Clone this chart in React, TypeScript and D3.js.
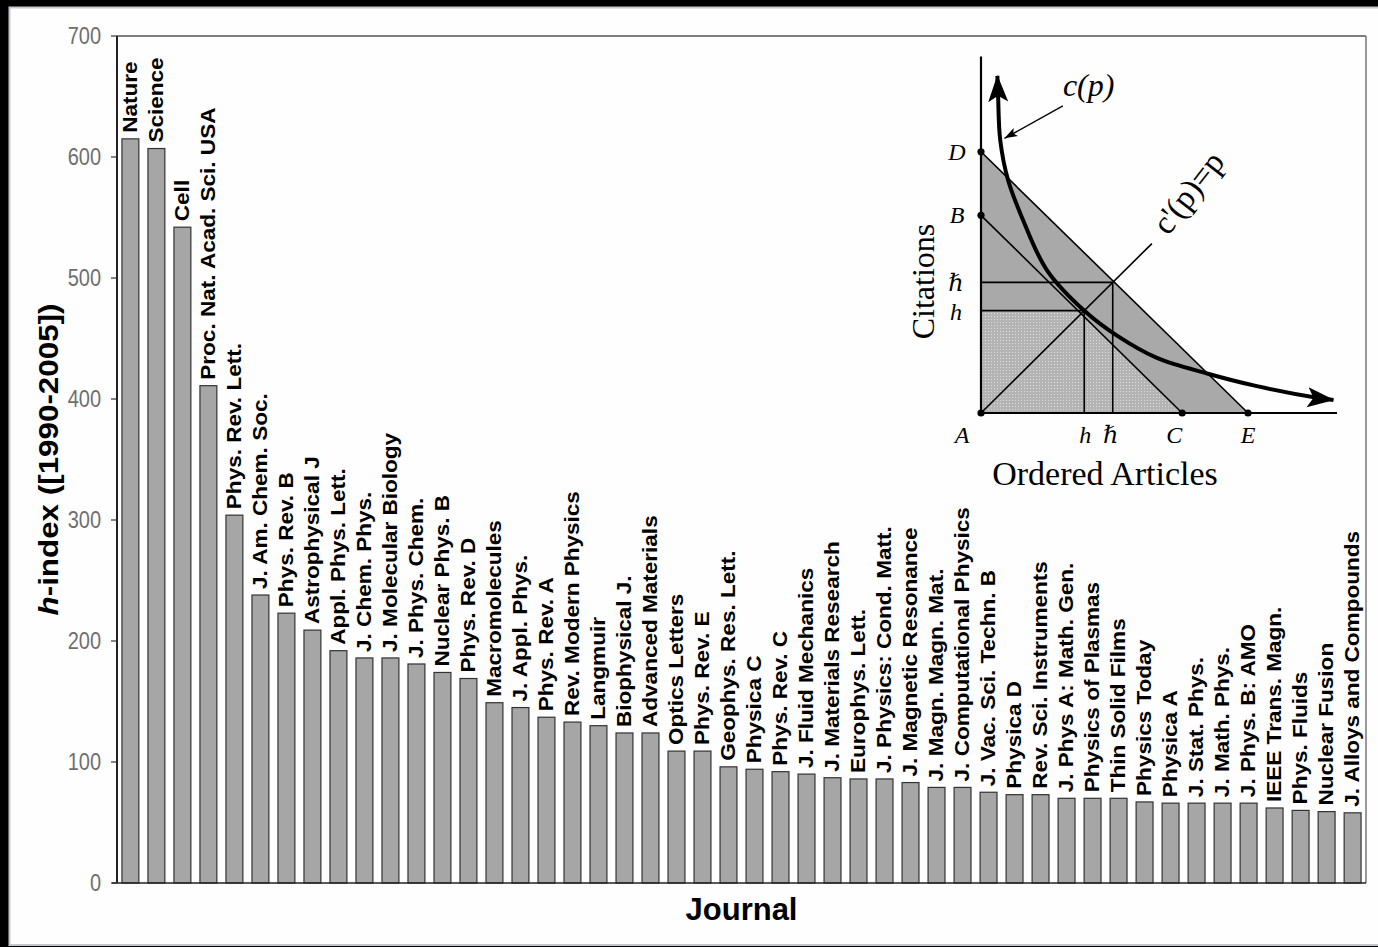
import React from "react";
import * as d3 from "d3";

// journals, ordered by h-index (1990-2005)
const journals = [
  "Nature", "Science", "Cell", "Proc. Nat. Acad. Sci. USA", "Phys. Rev. Lett.",
  "J. Am. Chem. Soc.", "Phys. Rev. B", "Astrophysical J", "Appl. Phys. Lett.",
  "J. Chem. Phys.", "J. Molecular Biology", "J. Phys. Chem.", "Nuclear Phys. B",
  "Phys. Rev. D", "Macromolecules", "J. Appl. Phys.", "Phys. Rev. A",
  "Rev. Modern Physics", "Langmuir", "Biophysical J.", "Advanced Materials",
  "Optics Letters", "Phys. Rev. E", "Geophys. Res. Lett.", "Physica C",
  "Phys. Rev. C", "J. Fluid Mechanics", "J. Materials Research", "Europhys. Lett.",
  "J. Physics: Cond. Matt.", "J. Magnetic Resonance", "J. Magn. Magn. Mat.",
  "J. Computational Physics", "J. Vac. Sci. Techn. B", "Physica D",
  "Rev. Sci. Instruments", "J. Phys A: Math. Gen.", "Physics of Plasmas",
  "Thin Solid Films", "Physics Today", "Physica A", "J. Stat. Phys.",
  "J. Math. Phys.", "J. Phys. B: AMO", "IEEE Trans. Magn.", "Phys. Fluids",
  "Nuclear Fusion", "J. Alloys and Compounds",
];

const hIndex = [
  615, 607, 542, 411, 304, 238, 223, 209, 192, 186, 186, 181, 174, 169, 149, 145,
  137, 133, 130, 124, 124, 109, 109, 96, 94, 92, 90, 87, 86, 86, 83, 79, 79, 75,
  73, 73, 70, 70, 70, 67, 66, 66, 66, 66, 62, 60, 59, 58,
];

const yTicks = [0, 100, 200, 300, 400, 500, 600, 700];

// inset schematic, in its own 0..100 units
const vertexNames = ["A", "B", "C", "D", "E"];
const vertexX = [0, 0, 56.5, 0, 75];
const vertexY = [0, 56, 0, 74, 0];
const hValue = 29;
const hBarValue = 37;
const diagonalEnd = 48;
const curveX = [4.6, 4.8, 5.4, 7.6, 11.8, 18.5, 29.2, 38.2, 49.4, 63.5, 77.5, 94.4, 99];
const curveY = [95.5, 90, 77.3, 66, 54.7, 40.5, 28.8, 21.9, 15.6, 11.2, 7.6, 4.3, 3.7];

const W = 1378;
const H = 947;
const PLOT = { left: 117, right: 1366, top: 36, bottom: 883 };
const INSET = { left: 981, right: 1337, top: 60, bottom: 413 };

const SANS = "'Liberation Sans', Arial, Helvetica, sans-serif";
const SERIF = "'Liberation Serif', 'Times New Roman', 'DejaVu Serif', serif";

export default function App() {
  const x = d3
    .scaleBand<string>()
    .domain(journals)
    .range([PLOT.left, PLOT.right])
    .paddingInner(0.35)
    .paddingOuter(0.19);
  const y = d3.scaleLinear().domain([0, 700]).range([PLOT.bottom, PLOT.top]);
  const bw = x.bandwidth();

  // inset scales
  const ix = d3.scaleLinear().domain([0, 100]).range([INSET.left, INSET.right]);
  const iy = d3.scaleLinear().domain([0, 100]).range([INSET.bottom, INSET.top]);
  const pt = (name: string) => {
    const i = vertexNames.indexOf(name);
    return [ix(vertexX[i]), iy(vertexY[i])];
  };
  const [Ax, Ay] = pt("A");
  const [Bx, By] = pt("B");
  const [Cx, Cy] = pt("C");
  const [Dx, Dy] = pt("D");
  const [Ex, Ey] = pt("E");
  // where BC crosses the h line
  const bcAtH = vertexX[2] * (1 - hValue / vertexY[1]);

  const curve = d3
    .line<[number, number]>()
    .x((d) => ix(d[0]))
    .y((d) => iy(d[1]))
    .curve(d3.curveCatmullRom.alpha(0.5));
  const curvePath = curve(curveX.map((v, i) => [v, curveY[i]] as [number, number]));

  const labelStyle = { fontFamily: SERIF, fontStyle: "italic", fontSize: 24 };

  return (
    <div style={{ position: "absolute", left: 0, top: 0 }}>
      <svg width={W} height={H} style={{ display: "block" }}>
        <defs>
          <marker
            id="bigArrow"
            markerUnits="userSpaceOnUse"
            viewBox="0 0 28 22"
            markerWidth={28}
            markerHeight={22}
            refX={26}
            refY={11}
            orient="auto-start-reverse"
          >
            <path d="M0,1 L27,11 L0,21 L6,11 Z" fill="#000" />
          </marker>
          <marker
            id="smallArrow"
            markerUnits="userSpaceOnUse"
            viewBox="0 0 14 10"
            markerWidth={14}
            markerHeight={10}
            refX={13}
            refY={5}
            orient="auto"
          >
            <path d="M0,0.5 L13,5 L0,9.5 L3,5 Z" fill="#000" />
          </marker>
          <pattern id="dots" width={3} height={3} patternUnits="userSpaceOnUse">
            <rect width={3} height={3} fill="#b4b4b4" />
            <rect x={1} y={1} width={1} height={1} fill="#dadada" />
          </pattern>
        </defs>

        {/* frame */}
        <rect x={0} y={0} width={W} height={H} fill="#000" />
        <rect x={9.5} y={7.5} width={W} height={937.5} fill="#fefefe" stroke="#c3c8d0" strokeWidth={2} />

        {/* plot box */}
        <line x1={PLOT.left} x2={PLOT.right} y1={PLOT.top} y2={PLOT.top} stroke="#555" strokeWidth={1.5} />
        <line x1={PLOT.right} x2={PLOT.right} y1={PLOT.top} y2={PLOT.bottom} stroke="#777" strokeWidth={1.5} />

        {/* bars */}
        {journals.map((j, i) => (
          <rect
            key={j}
            x={x(j)}
            y={y(hIndex[i])}
            width={bw}
            height={y(0) - y(hIndex[i])}
            fill="#a6a6a6"
            stroke="#333"
            strokeWidth={1.2}
          />
        ))}

        {/* bar labels */}
        {journals.map((j, i) => (
          <text
            key={"l" + j}
            transform={`translate(${(x(j) as number) + bw / 2 + 6.5},${y(hIndex[i]) - 6}) rotate(-90) scale(1.1,1)`}
            fontFamily={SANS}
            fontWeight="bold"
            fontSize={20.5}
            fill="#000"
          >
            {j}
          </text>
        ))}

        {/* y axis */}
        <line x1={PLOT.left} x2={PLOT.left} y1={PLOT.top} y2={PLOT.bottom} stroke="#222" strokeWidth={2} />
        <line x1={PLOT.left - 5} x2={PLOT.right} y1={PLOT.bottom} y2={PLOT.bottom} stroke="#222" strokeWidth={1.5} />
        {yTicks.map((t) => (
          <g key={t}>
            <line x1={PLOT.left - 6} x2={PLOT.left} y1={y(t)} y2={y(t)} stroke="#333" strokeWidth={1.2} />
            <text
              transform={`translate(${PLOT.left - 16},${y(t)}) scale(1,1.15)`}
              textAnchor="end"
              dominantBaseline="central"
              fontFamily={SANS}
              fontSize={20}
              fill="#6e6e6e"
            >
              {t}
            </text>
          </g>
        ))}
        <text
          transform={`translate(58,${(PLOT.top + PLOT.bottom) / 2}) rotate(-90) scale(1.12,1)`}
          textAnchor="middle"
          fontFamily={SANS}
          fontWeight="bold"
          fontSize={28}
          fill="#000"
        >
          <tspan fontStyle="italic">h</tspan>-index ([1990-2005])
        </text>
        <text
          x={(PLOT.left + PLOT.right) / 2}
          y={920}
          textAnchor="middle"
          fontFamily={SANS}
          fontWeight="bold"
          fontSize={31}
          fill="#000"
        >
          Journal
        </text>

        {/* inset schematic */}
        <g>
          <polygon points={`${Ax},${Ay} ${Dx},${Dy} ${Ex},${Ey}`} fill="#a9a9a9" />
          <polygon
            points={`${Ax},${Ay} ${Ax},${iy(hValue)} ${ix(bcAtH)},${iy(hValue)} ${Cx},${Cy}`}
            fill="url(#dots)"
          />
          <g stroke="#000" strokeWidth={1.6} fill="none">
            <line x1={Dx} y1={Dy} x2={Ex} y2={Ey} />
            <line x1={Bx} y1={By} x2={Cx} y2={Cy} />
            <line x1={Ax} y1={iy(hBarValue)} x2={ix(hBarValue)} y2={iy(hBarValue)} />
            <line x1={Ax} y1={iy(hValue)} x2={ix(hValue)} y2={iy(hValue)} />
            <line x1={ix(hValue)} y1={iy(hValue)} x2={ix(hValue)} y2={Ay} />
            <line x1={ix(hBarValue)} y1={iy(hBarValue)} x2={ix(hBarValue)} y2={Ay} />
            <line x1={Ax} y1={Ay} x2={ix(diagonalEnd)} y2={iy(diagonalEnd)} />
          </g>
          {/* axes */}
          <line x1={Ax} y1={Ay} x2={Ax} y2={iy(101)} stroke="#000" strokeWidth={2.2} />
          <line x1={Ax} y1={Ay} x2={ix(100)} y2={Ay} stroke="#000" strokeWidth={2.2} />
          {/* c(p) curve */}
          <path
            d={curvePath ?? ""}
            fill="none"
            stroke="#000"
            strokeWidth={4}
            markerStart="url(#bigArrow)"
            markerEnd="url(#bigArrow)"
          />
          {vertexNames.map((n) => {
            const [px, py] = pt(n);
            return <circle key={n} cx={px} cy={py} r={3.6} fill="#000" />;
          })}
          {/* c(p) annotation */}
          <line
            x1={ix(23)}
            y1={iy(87)}
            x2={ix(6.6)}
            y2={iy(77.8)}
            stroke="#000"
            strokeWidth={1.4}
            markerEnd="url(#smallArrow)"
          />
          <text x={ix(23)} y={96} fontFamily={SERIF} fontStyle="italic" fontSize={32} fill="#000">
            c(p)
          </text>
          <text
            transform={`translate(${ix(52.5)},${iy(50)}) rotate(-52)`}
            fontFamily={SERIF}
            fontSize={33}
            fill="#000"
          >
            c'(p)=p
          </text>

          {/* vertex and h labels */}
          <text x={Ax - 24} y={Dy} textAnchor="middle" dominantBaseline="central" {...labelStyle}>D</text>
          <text x={Ax - 24} y={By} textAnchor="middle" dominantBaseline="central" {...labelStyle}>B</text>
          <text x={Ax - 25} y={iy(hBarValue) + 1} textAnchor="middle" dominantBaseline="central" {...labelStyle}>ℏ</text>
          <text x={Ax - 25} y={iy(hValue) + 1} textAnchor="middle" dominantBaseline="central" {...labelStyle}>h</text>
          <text x={Ax - 19} y={Ay + 22} textAnchor="middle" dominantBaseline="central" {...labelStyle}>A</text>
          <text x={ix(hValue) + 1} y={Ay + 22} textAnchor="middle" dominantBaseline="central" {...labelStyle}>h</text>
          <text x={ix(hBarValue) - 2} y={Ay + 22} textAnchor="middle" dominantBaseline="central" {...labelStyle}>ℏ</text>
          <text x={Cx - 8} y={Ay + 22} textAnchor="middle" dominantBaseline="central" {...labelStyle}>C</text>
          <text x={Ex} y={Ay + 22} textAnchor="middle" dominantBaseline="central" {...labelStyle}>E</text>

          <text
            transform={`translate(934,${(INSET.top + INSET.bottom) / 2 + 45}) rotate(-90)`}
            textAnchor="middle"
            fontFamily={SERIF}
            fontSize={32}
            fill="#000"
          >
            Citations
          </text>
          <text x={1105} y={485} textAnchor="middle" fontFamily={SERIF} fontSize={34} fill="#000">
            Ordered Articles
          </text>
        </g>
      </svg>
    </div>
  );
}
